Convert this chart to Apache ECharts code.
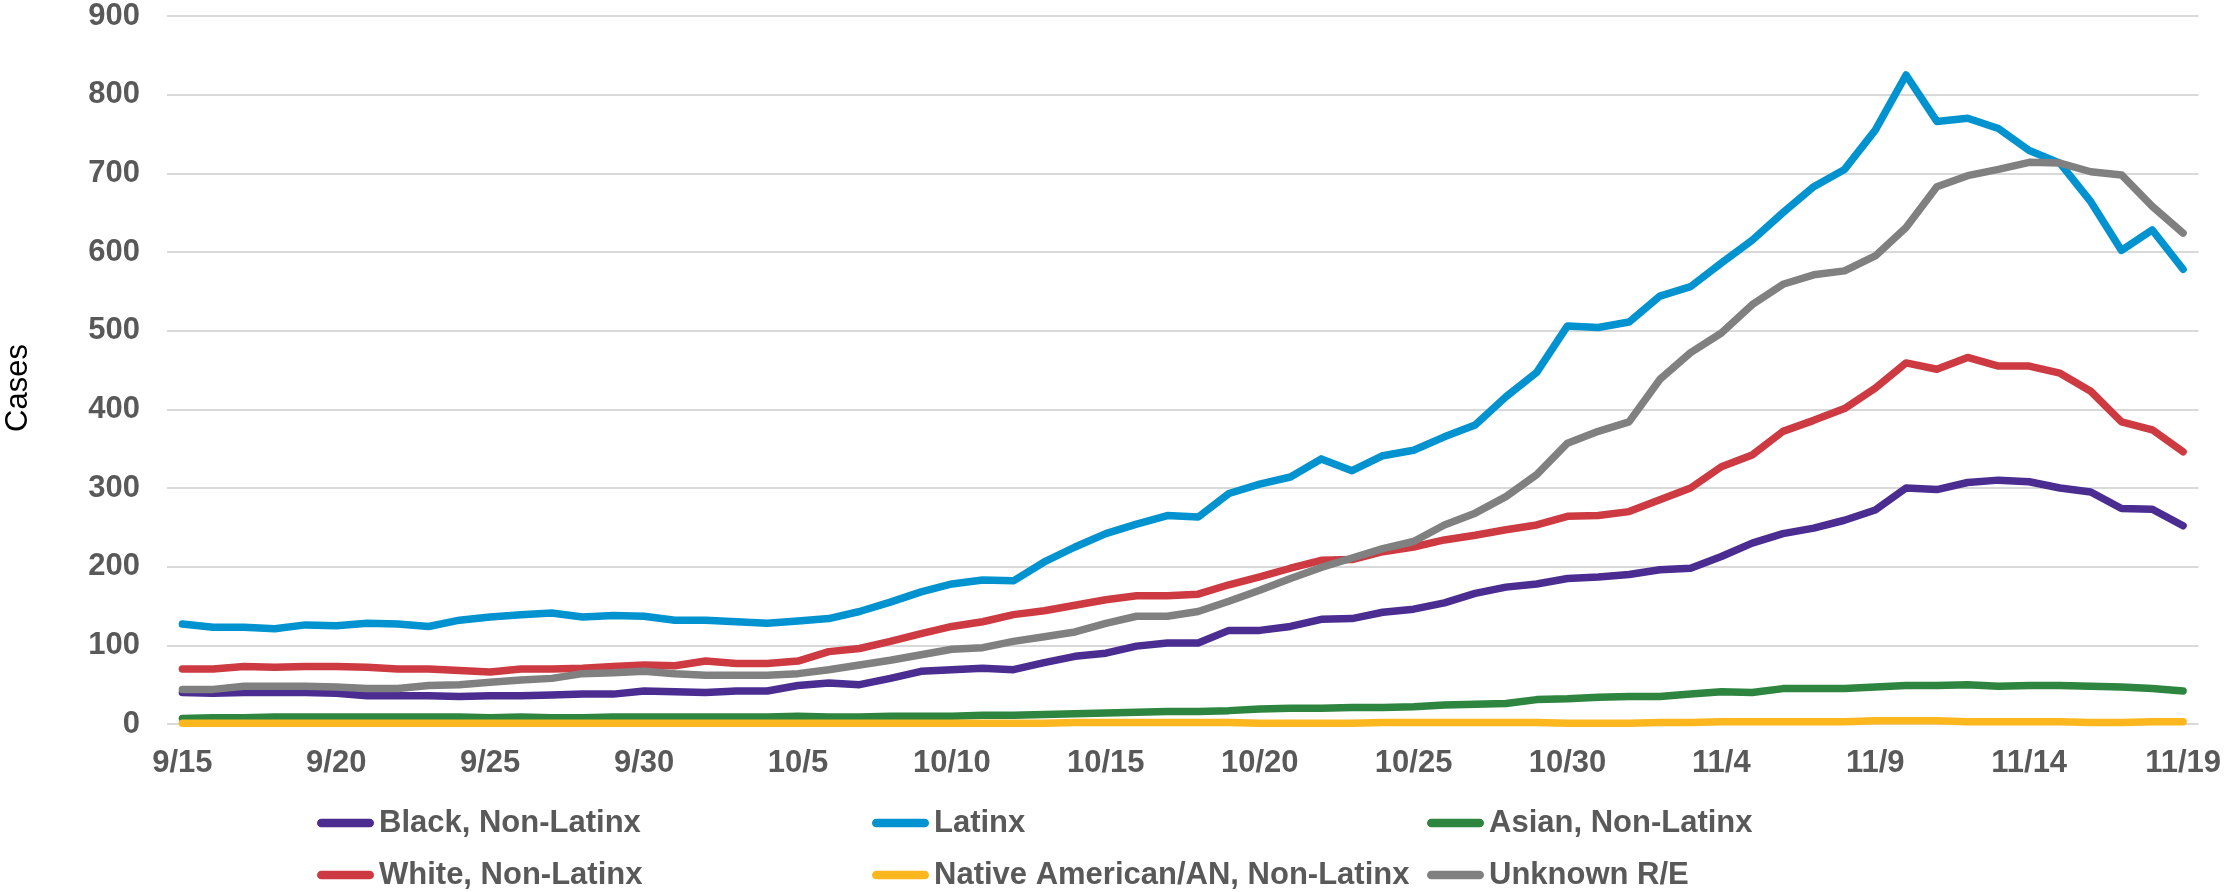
<!DOCTYPE html>
<html>
<head>
<meta charset="utf-8">
<script src="https://cdn.jsdelivr.net/npm/echarts@6/dist/echarts.min.js"></script>
<style>
  html, body { margin: 0; padding: 0; background: #fff; }
  #chart { width: 2224px; height: 892px; }
</style>
</head>
<body>
<div id="chart"></div>
<script>
// dates 9/15 .. 11/19
const dates = [];
for (let d = 15; d <= 30; d++) dates.push('9/' + d);
for (let d = 1; d <= 31; d++) dates.push('10/' + d);
for (let d = 1; d <= 19; d++) dates.push('11/' + d);

const seriesNames = [
  'Black, Non-Latinx',
  'Latinx',
  'Asian, Non-Latinx',
  'White, Non-Latinx',
  'Native American/AN, Non-Latinx',
  'Unknown R/E',
];

const black = [
  40, 39, 40, 40, 40, 39, 36, 36, 36, 35, 36, 36, 37, 38, 38, 42, 41, 40, 42, 42, 49,
  52, 50, 58, 67, 69, 71, 69, 78, 86, 90, 99, 103, 103, 119, 119, 124, 133, 134, 142, 146, 154, 166,
  174, 178, 185, 187, 190, 196, 198, 213, 230, 242, 249, 259, 272, 300, 298, 307, 310, 308, 300, 295, 274, 273, 252,
];
const latinx = [
  127, 123, 123, 121, 126, 125, 128, 127, 124, 132, 136, 139, 141, 136, 138, 137, 132, 132, 130, 128, 131,
  134, 143, 155, 168, 178, 183, 182, 206, 225, 242, 254, 265, 263, 293, 305, 314, 337, 322, 341, 348, 365, 380,
  416, 447, 506, 504, 511, 544, 556, 586, 615, 650, 683, 705, 755, 825, 766, 770, 757, 729, 713, 664, 602, 628, 578,
];
const asian = [
  7, 8, 8, 9, 9, 9, 9, 9, 9, 9, 8, 9, 8, 8, 9, 9, 9, 9, 9, 9, 10,
  9, 9, 10, 10, 10, 11, 11, 12, 13, 14, 15, 16, 16, 17, 19, 20, 20, 21, 21, 22, 24, 25,
  26, 31, 32, 34, 35, 35, 38, 41, 40, 45, 45, 45, 47, 49, 49, 50, 48, 49, 49, 48, 47, 45, 42,
];
const white = [
  70, 70, 73, 72, 73, 73, 72, 70, 70, 68, 66, 70, 70, 71, 73, 75, 74, 80, 77, 77, 80,
  92, 96, 105, 115, 124, 130, 139, 144, 151, 158, 163, 163, 165, 177, 187, 198, 208, 209, 219, 225, 234, 240,
  247, 253, 264, 265, 270, 285, 300, 327, 342, 372, 386, 401, 427, 459, 451, 466, 455, 455, 446, 423, 384, 374, 346,
];
const native = [
  1, 1, 1, 1, 1, 1, 1, 1, 1, 1, 1, 1, 1, 1, 1, 1, 1, 1, 1, 1, 1,
  1, 1, 1, 1, 1, 1, 1, 1, 2, 2, 2, 2, 2, 2, 1, 1, 1, 1, 2, 2, 2, 2,
  2, 2, 1, 1, 1, 2, 2, 3, 3, 3, 3, 3, 4, 4, 4, 3, 3, 3, 3, 2, 2, 3, 3,
];
const unknown = [
  44, 44, 48, 48, 48, 47, 45, 45, 49, 50, 53, 56, 58, 64, 65, 67, 64, 62, 62, 62, 64,
  69, 75, 81, 88, 95, 97, 105, 111, 117, 128, 137, 137, 143, 156, 170, 185, 199, 211, 223, 232, 253, 268,
  289, 317, 357, 372, 384, 438, 472, 497, 533, 559, 571, 576, 595, 631, 683, 697, 705, 714, 713, 702, 698, 658, 624,
];

const seriesData = [black, latinx, asian, white, native, unknown];
const colors = ['#4b2c91', '#0093d0', '#2e8540', '#cd3a42', '#fdb71e', '#808080'];

const font = '"Liberation Sans", Arial, sans-serif';
const textGray = '#595959';

const chart = echarts.init(document.getElementById('chart'));

const legends = seriesNames.map((name, i) => ({
  data: [name],
  left: 317 + (i % 3) * 555,
  top: i < 3 ? 805 : 857,
  padding: 0,
  itemWidth: 57,
  itemHeight: 9,
  icon: 'path://M4.5,0 H55.5 A4.5,4.5 0 0 1 55.5,9 H4.5 A4.5,4.5 0 0 1 4.5,0 Z',
  selectedMode: false,
  textStyle: {
    fontFamily: font,
    fontWeight: 'bold',
    fontSize: 31,
    color: textGray,
    lineHeight: 36,
  },
}));

const option = {
  animation: false,
  color: colors,
  grid: {
    left: 167,
    right: 24,
    top: 16,
    bottom: 168,
  },
  legend: legends,
  graphic: [
    {
      type: 'text',
      x: 18,
      y: 388,
      rotation: Math.PI / 2,
      style: {
        text: 'Cases',
        fontFamily: font,
        fontSize: 31,
        fill: '#000',
        textAlign: 'center',
        textVerticalAlign: 'middle',
      },
    },
  ],
  xAxis: {
    type: 'category',
    data: dates,
    boundaryGap: true,
    axisLine: { show: false },
    axisTick: { show: false },
    axisLabel: {
      interval: 4,
      margin: 24,
      fontFamily: font,
      fontWeight: 'bold',
      fontSize: 31,
      color: textGray,
    },
  },
  yAxis: {
    type: 'value',
    min: 0,
    max: 900,
    interval: 100,
    axisLine: { show: false },
    axisTick: { show: false },
    axisLabel: {
      margin: 27,
      fontFamily: font,
      fontWeight: 'bold',
      fontSize: 31,
      color: textGray,
    },
    splitLine: {
      lineStyle: { color: '#d9d9d9', width: 2 },
    },
  },
  series: seriesNames.map((name, i) => ({
    name: name,
    type: 'line',
    data: seriesData[i],
    showSymbol: false,
    symbol: 'none',
    lineStyle: {
      width: 7.5,
      cap: 'round',
      join: 'round',
    },
  })),
};

chart.setOption(option);
</script>
</body>
</html>
